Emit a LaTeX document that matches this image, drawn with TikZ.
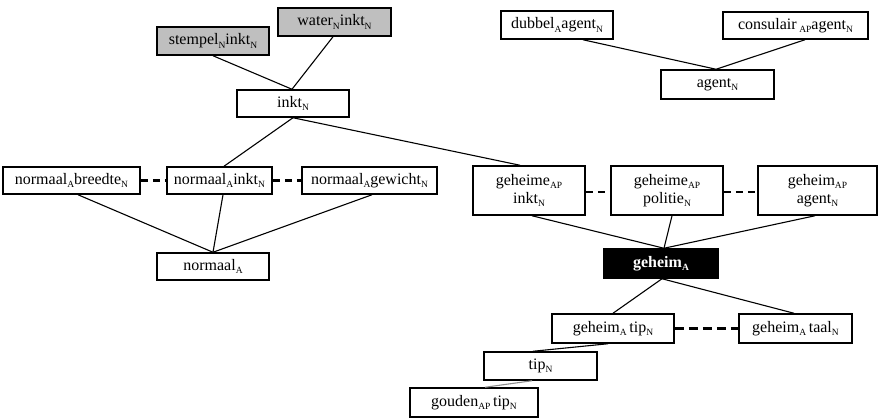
\documentclass[tikz,border=0pt]{standalone}
\usepackage{fontspec}
\setmainfont{Liberation Serif}
% word-class label set below the baseline
\newcommand\wc[1]{\raisebox{-0.45ex}{\fontsize{9.5}{9.5}\selectfont #1}}
\begin{document}
\begin{tikzpicture}[x=1pt,y=-1pt,
  box/.style={draw, line width=1.5pt, inner sep=0pt, align=center,
    font=\fontsize{16}{18}\selectfont, fill=white},
  greybox/.style={box, fill=black!25},
  headbox/.style={box, fill=black, text=white, font=\fontsize{16}{18}\selectfont\bfseries},
  link/.style={line width=1.1pt},
  faint/.style={line width=1.1pt, draw=black!45},
  sibling/.style={line width=2.6pt, dash pattern=on 7pt off 5pt},
  sibling long/.style={line width=2.6pt, dash pattern=on 9pt off 5pt}]
\useasboundingbox (0,0) rectangle (878,418);

% compounds with inkt
\node[greybox, minimum width=112pt, minimum height=28pt] (stempel) at (213,41) {stempel\wc{N}inkt\wc{N}};
\node[greybox, minimum width=113pt, minimum height=28pt] (water) at (334.5,22) {water\wc{N}inkt\wc{N}};
\node[box, minimum width=112pt, minimum height=27pt] (inkt) at (293,103.5) {inkt\wc{N}};

% compounds with agent
\node[box, minimum width=112pt, minimum height=28pt] (dubbel) at (557,25) {dubbel\wc{A}agent\wc{N}};
\node[box, minimum width=145pt, minimum height=27pt] (consulair) at (795.5,25.5) {consulair\,\wc{AP}agent\wc{N}};
\node[box, minimum width=113pt, minimum height=29pt] (agent) at (717.5,84.5) {agent\wc{N}};

% normaal family
\node[box, minimum width=137pt, minimum height=27pt] (nbreedte) at (71.5,180.5) {normaal\wc{A}breedte\wc{N}};
\node[box, minimum width=105pt, minimum height=27pt] (ninkt) at (219.5,180.5) {normaal\wc{A}inkt\wc{N}};
\node[box, minimum width=135pt, minimum height=27pt] (ngewicht) at (369.5,180.5) {normaal\wc{A}gewicht\wc{N}};
\node[box, minimum width=112pt, minimum height=27pt] (normaal) at (213,266.5) {normaal\wc{A}};

% geheim family
\node[box, minimum width=112pt, minimum height=49pt] (ginkt) at (529,190.5) {geheime\wc{AP}\\inkt\wc{N}};
\node[box, minimum width=112pt, minimum height=49pt] (gpolitie) at (667,190.5) {geheime\wc{AP}\\politie\wc{N}};
\node[box, minimum width=119pt, minimum height=49pt] (gagent) at (817.5,190.5) {geheim\wc{AP}\\agent\wc{N}};
\node[headbox, minimum width=114pt, minimum height=29pt] (geheim) at (661,263.5) {geheim\wc{A}};
\node[box, minimum width=122pt, minimum height=29pt] (gtip) at (613,328.5) {geheim\wc{A}\,tip\wc{N}};
\node[box, minimum width=113pt, minimum height=29pt] (gtaal) at (795.5,328.5) {geheim\wc{A}\,taal\wc{N}};
\node[box, minimum width=113pt, minimum height=28pt] (tip) at (540.5,366) {tip\wc{N}};
\node[box, minimum width=128pt, minimum height=29pt] (gouden) at (474,402.5) {gouden\wc{AP}\,tip\wc{N}};

% hierarchy links
\draw[link] (stempel.south) -- ([xshift=-1pt]inkt.north);
\draw[link] ([xshift=-1.5pt]water.south) -- ([xshift=-1pt]inkt.north);
\draw[link] (inkt.south) -- ([xshift=4.5pt]ninkt.north);
\draw[link] (inkt.south) -- ([xshift=-9pt]ginkt.north);

\draw[link] ([xshift=26pt]dubbel.south) -- ([xshift=-1.5pt]agent.north);
\draw[link] ([xshift=9.5pt]consulair.south) -- ([xshift=-1.5pt]agent.north);

\draw[link] ([xshift=6.5pt]nbreedte.south) -- (normaal.north);
\draw[link] ([xshift=3.5pt]ninkt.south) -- (normaal.north);
\draw[link] ([xshift=2.5pt]ngewicht.south) -- (normaal.north);

\draw[link] ([xshift=3pt]ginkt.south) -- ([xshift=3pt]geheim.north);
\draw[link] ([xshift=5pt]gpolitie.south) -- ([xshift=3pt]geheim.north);
\draw[link] ([xshift=-2.5pt]gagent.south) -- ([xshift=3pt]geheim.north);

\draw[link] ([xshift=1pt]geheim.south) -- (gtip.north);
\draw[link] ([xshift=1pt]geheim.south) -- ([xshift=-1.5pt]gtaal.north);
\draw[link] ([xshift=-5pt]gtip.south) -- ([xshift=-7.5pt]tip.north);
\draw[faint] ([xshift=-8.5pt]tip.south) -- ([xshift=11pt]gouden.north);

% sibling relations
\draw[sibling] (nbreedte.east) -- (ninkt.west);
\draw[sibling] (ninkt.east) -- (ngewicht.west);
\draw[sibling] ([yshift=-1.5pt]ginkt.east) -- ([yshift=-1.5pt]gpolitie.west);
\draw[sibling] ([yshift=-1.5pt]gpolitie.east) -- ([yshift=-1.5pt]gagent.west);
\draw[sibling long] (gtip.east) -- (gtaal.west);
\end{tikzpicture}
\end{document}
